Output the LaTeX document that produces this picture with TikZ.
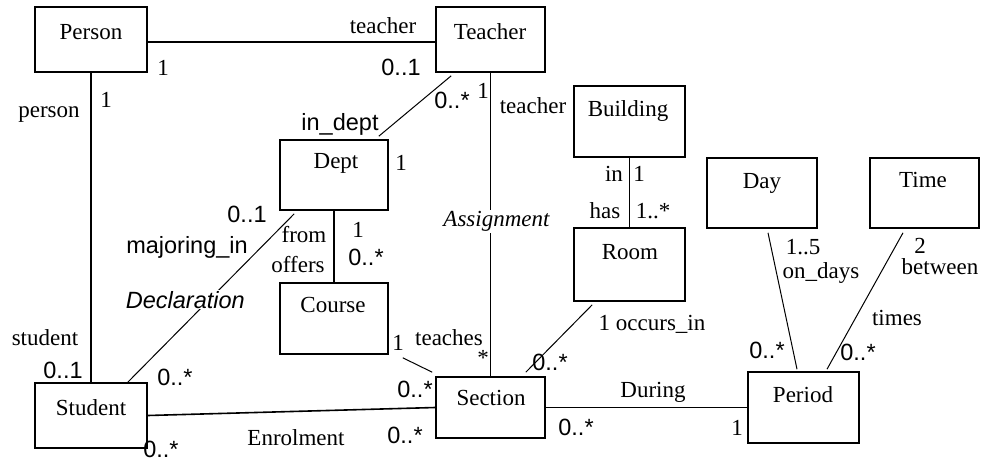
\documentclass[tikz,border=0pt]{standalone}
\usepackage{fontspec}
\setmainfont{Liberation Serif}
\newfontfamily\sansf{Liberation Sans}
\begin{document}
\begin{tikzpicture}[x=1pt,y=-1pt,
 box/.style={draw, line width=1.6pt, inner sep=0pt},
 nm/.style={anchor=base, font=\fontsize{23}{25}\selectfont, inner sep=0pt},
 lb/.style={anchor=base, font=\fontsize{23}{25}\selectfont, inner sep=0pt},
 sl/.style={anchor=base, font=\sansf\fontsize{23.5}{25}\selectfont, inner sep=0pt},
 conn/.style={line width=1.6pt},
 diag/.style={line width=1pt}]
\useasboundingbox[fill=white] (0,0) rectangle (982,461);

% class boxes
\node[box, minimum width=112pt, minimum height=65pt] (person) at (91,39.5) {};
\node[box, minimum width=109pt, minimum height=65pt] (teacher) at (490.5,39.5) {};
\node[box, minimum width=108pt, minimum height=70pt] (dept) at (334,175) {};
\node[box, minimum width=111pt, minimum height=71pt] (building) at (629.5,121.5) {};
\node[box, minimum width=111pt, minimum height=73pt] (room) at (629.5,264.5) {};
\node[box, minimum width=110pt, minimum height=70pt] (day) at (762,193) {};
\node[box, minimum width=109pt, minimum height=70pt] (time) at (924.5,193) {};
\node[box, minimum width=111pt, minimum height=71pt] (period) at (803.5,407.5) {};
\node[box, minimum width=109pt, minimum height=61pt] (section) at (490.5,407.5) {};
\node[box, minimum width=108pt, minimum height=71pt] (course) at (334,318.5) {};
\node[box, minimum width=112pt, minimum height=65pt] (student) at (91,415.5) {};

% class names
\node[nm] (personN) at (91,39) {Person};
\node[nm] (teacherN) at (490,39) {Teacher};
\node[nm] (deptN) at (336,168) {Dept};
\node[nm] (buildingN) at (628,116) {Building};
\node[nm] (dayN) at (762,188) {Day};
\node[nm] (timeN) at (923,187) {Time};
\node[nm] (roomN) at (630,259) {Room};
\node[nm] (courseN) at (333,312) {Course};
\node[nm] (sectionN) at (491,405) {Section};
\node[nm] (periodN) at (803,402) {Period};
\node[nm] (studentN) at (91,415) {Student};

% connectors
\draw[conn] ([yshift=-2.5pt]person.east) -- ([yshift=-2.5pt]teacher.west);
\draw[conn] (person.south) -- (student.north);
\draw[diag] ([xshift=-10pt,yshift=3pt]dept.north east) -- ([xshift=16pt,yshift=-3pt]teacher.south west);
\draw[conn] (teacher.south) -- node[pos=0.49, fill=white, inner sep=1pt, xshift=6pt, font=\itshape\fontsize{23}{25}\selectfont] (assign) {Assignment} (section.north);
\draw[conn] (building.south) -- (room.north);
\draw[conn] (dept.south) -- (course.north);
\draw[diag] ([xshift=-20pt]student.north east) -- node[pos=0.49, fill=white, inner sep=1pt, xshift=-24pt, font=\sansf\itshape\fontsize{23.5}{25}\selectfont] (decl) {Declaration} ([xshift=15pt,yshift=-3pt]dept.south west);
\draw[diag] ([shift={(14pt,-3pt)}]course.south east) -- ([shift={(-3pt,4pt)}]section.north west);
\draw[diag] ([shift={(19pt,-3pt)}]room.south west) -- ([shift={(-20pt,4pt)}]section.north east);
\draw[conn] (student.east) -- (section.west);
\draw[conn] (section.east) -- (period.west);
\draw[diag] ([shift={(6pt,-4pt)}]day.south) -- ([shift={(-6.5pt,2pt)}]period.north);
\draw[diag] ([shift={(-21.5pt,-4pt)}]time.south) -- ([shift={(23.5pt,2pt)}]period.north);

% role names and multiplicities
\node[lb] (l1) at (383,33) {teacher};
\node[lb] (l2) at (163,75) {1};
\node[sl] (l3) at (401,75) {0..1};
\node[lb] (l4) at (49,117) {person};
\node[lb] (l5) at (106,107) {1};
\node[sl] (l6) at (340,130) {in\_dept};
\node[sl] (l7) at (452,108) {0..*};
\node[lb] (l8) at (483,98) {1};
\node[lb] (l9) at (533,113) {teacher};
\node[lb] (l10) at (401,170) {1};
\node[lb] (l11) at (614,181) {in};
\node[lb] (l12) at (639,181) {1};
\node[lb] (l13) at (605,218) {has};
\node[lb] (l14) at (653,218) {1..*};
\node[sl] (l15) at (247,222) {0..1};
\node[sl] (l16) at (187,253) {majoring\_in};
\node[lb] (l17) at (304,242) {from};
\node[lb] (l18) at (298,272) {offers};
\node[lb] (l19) at (358,237) {1};
\node[sl] (l20) at (366,265) {0..*};
\node[lb] (l21) at (45,345) {student};
\node[sl] (l22) at (63,378) {0..1};
\node[sl] (l23) at (175,385) {0..*};
\node[sl] (l24) at (161,457) {0..*};
\node[lb] (l25) at (296,445) {Enrolment};
\node[lb] (l26) at (398,350) {1};
\node[lb] (l27) at (449,345) {teaches};
\node[lb] (l28) at (483,365) {*};
\node[sl] (l29) at (415,397) {0..*};
\node[sl] (l30) at (405,443) {0..*};
\node[sl] (l31) at (550,370) {0..*};
\node[lb] (l32) at (652,330) {1 occurs\_in};
\node[lb] (l33) at (653,397) {During};
\node[sl] (l34) at (576,435) {0..*};
\node[lb] (l35) at (737,435) {1};
\node[lb] (l36) at (803,254) {1..5};
\node[lb] (l37) at (821,278) {on\_days};
\node[sl] (l38) at (767,358) {0..*};
\node[lb] (l39) at (920,253) {2};
\node[lb] (l40) at (940,274) {between};
\node[lb] (l41) at (897,325) {times};
\node[sl] (l42) at (858,360) {0..*};
\end{tikzpicture}
\end{document}
